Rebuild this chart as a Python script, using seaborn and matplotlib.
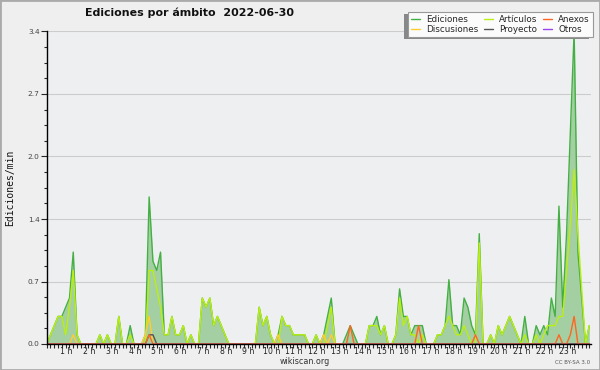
import matplotlib
matplotlib.use("Agg")
import matplotlib.pyplot as plt
import matplotlib.transforms as mtransforms
from matplotlib.patches import Rectangle
from matplotlib.lines import Line2D
from matplotlib.ticker import FixedLocator, FormatStrFormatter
import seaborn as sns
import numpy as np
import pandas as pd

titulo = "Ediciones por ámbito  2022-06-30"

# ediciones/min en intervalos de 10 minutos (144 valores, 12 por fila = 2 horas)
ediciones = [
    0, .1, .2, .3, .3, .4, .5, 1.0, .1, 0, 0, 0,
    0, 0, .1, 0, .1, 0, 0, .3, 0, 0, .2, 0,
    0, 0, .1, 1.6, .9, .8, 1.0, .1, .1, .3, .1, .1,
    .2, 0, .1, 0, 0, .5, .4, .5, .2, .3, .2, .1,
    0, 0, 0, 0, 0, 0, 0, 0, .4, .2, .3, .1,
    0, .1, .3, .2, .2, .1, .1, .1, .1, 0, 0, .1,
    0, .1, .3, .5, 0, 0, 0, .1, .2, .1, 0, 0,
    0, .2, .2, .3, .1, .2, 0, 0, .1, .6, .3, .3,
    .1, .2, .2, .2, 0, 0, 0, .1, .1, .2, .7, .2,
    .2, .1, .5, .4, .2, .1, 1.2, 0, 0, .1, 0, .2,
    .1, .2, .3, .2, .1, 0, .3, 0, 0, .2, .1, .2,
    .1, .5, .3, 1.5, .4, 1.2, 2.3, 3.4, 1.0, .5, 0, .2,
]

articulos = [
    0, .1, .2, .3, .3, .1, .4, .8, .1, 0, 0, 0,
    0, 0, .1, 0, .1, 0, 0, .3, 0, 0, .1, 0,
    0, 0, 0, .8, .8, .6, .4, .1, .1, .3, .1, .1,
    .2, 0, .1, 0, 0, .5, .4, .5, .2, .3, .2, .1,
    0, 0, 0, 0, 0, 0, 0, 0, .4, .2, .3, .1,
    0, 0, .3, .2, .2, .1, .1, .1, .1, 0, 0, .1,
    0, 0, .2, .4, 0, 0, 0, 0, 0, 0, 0, 0,
    0, .2, .2, .2, .1, .2, 0, 0, .1, .5, .2, .3,
    .1, .1, 0, .1, 0, 0, 0, .1, .1, .2, .3, .2,
    .1, .1, .2, .1, 0, 0, 1.1, 0, 0, .1, 0, .2,
    .1, .2, .3, .2, .1, 0, .1, 0, 0, .1, 0, .1,
    .2, .2, .2, .3, .3, .8, 1.3, 1.9, 1.2, .6, 0, .2,
]

# series casi vacias: {intervalo: valor}
discusiones_picos = {7: .1, 26: .1, 27: .3, 61: .1, 73: .1, 75: .1}
proyecto_picos = {27: .1, 28: .1}
anexos_picos = {27: .1, 80: .2, 98: .2, 113: .1, 135: .1, 138: .1, 139: .3}
otros_picos = {}

horas_etiquetas = [f"{h} h" for h in range(1, 24)]

colores = {
    "Ediciones": "#44b044",
    "Artículos": "#bbee11",
    "Discusiones": "#ffcc33",
    "Proyecto": "#555555",
    "Anexos": "#ff6622",
    "Otros": "#9944ee",
}


def serie(picos, n=144):
    v = np.zeros(n)
    for i, val in picos.items():
        v[i] = val
    return v


t = np.arange(144) / 6
df = pd.DataFrame({
    "hora": t,
    "Ediciones": ediciones,
    "Artículos": articulos,
    "Discusiones": serie(discusiones_picos),
    "Proyecto": serie(proyecto_picos),
    "Anexos": serie(anexos_picos),
    "Otros": serie(otros_picos),
})
largo = df.melt(id_vars="hora", var_name="ambito", value_name="valor")

sns.set_style("ticks")
plt.rcParams["font.family"] = ["DejaVu Sans"]

fig = plt.figure(figsize=(6, 3.7), dpi=100, facecolor="#efefef")
ax = fig.add_axes([46.7 / 600, 26 / 370, 544.5 / 600, 312.5 / 370])
ax.set_facecolor("#eeeff1")

# area de ediciones
ax.fill_between(df["hora"], df["Ediciones"], color="#a3cfa3", lw=0, zorder=2)

orden = ["Ediciones", "Artículos", "Discusiones", "Proyecto", "Anexos", "Otros"]
sns.lineplot(data=largo, x="hora", y="valor", hue="ambito", hue_order=orden,
             palette=colores, lw=1, ax=ax, legend=False, errorbar=None, zorder=3)

ax.set_xlim(0, 143.5 / 6)
ax.set_ylim(0, 3.4)

# ticks y
ax.yaxis.set_major_locator(FixedLocator(np.linspace(0, 3.4, 6)))
ax.yaxis.set_minor_locator(FixedLocator(np.linspace(0, 3.4, 21)))
ax.yaxis.set_major_formatter(FormatStrFormatter("%.1f"))
ax.tick_params(axis="y", which="major", length=4, width=0.8, labelsize=5.3, labelcolor="#444444", pad=1)
ax.tick_params(axis="y", which="minor", length=2.5, width=0.8)
ax.yaxis.grid(True, which="major", color="#cccccc", lw=0.8, zorder=0)

# ticks x: cada 10 minutos, etiqueta cada hora
ax.xaxis.set_major_locator(FixedLocator(range(1, 24)))
ax.xaxis.set_minor_locator(FixedLocator(t))
ax.set_xticklabels(horas_etiquetas)
ax.tick_params(axis="x", which="both", length=3, width=0.8, labelsize=5.6, labelcolor="#222222", pad=-0.5)
desplaza = mtransforms.ScaledTranslation(-3 / 100, 0, fig.dpi_scale_trans)
for lab in ax.get_xticklabels():
    lab.set_transform(lab.get_transform() + desplaza)

sns.despine(ax=ax)
for lado in ["left", "bottom"]:
    ax.spines[lado].set_color("black")
    ax.spines[lado].set_linewidth(1)
    ax.spines[lado].set_zorder(5)

ax.set_xlabel("")
ax.set_ylabel("")

# textos
fig.text(85 / 600, 1 - 13 / 370, titulo, fontsize=7.9, fontweight="bold", ha="left", va="center", color="#111111")
fig.text(10 / 600, 1 - 188 / 370, "Ediciones/min", family="DejaVu Sans Mono", fontsize=7,
         rotation=90, ha="center", va="center", color="#111111")
fig.text(305 / 600, 1 - 362 / 370, "wikiscan.org", fontsize=5.8, ha="center", va="center", color="#333333")
fig.text(590 / 600, 1 - 362 / 370, "CC BY-SA 3.0", fontsize=4, ha="right", va="center", color="#555555")

# leyenda
labels = ["Ediciones", "Discusiones", "Artículos", "Proyecto", "Anexos", "Otros"]
handles = [Line2D([], [], color=colores[n], lw=1) for n in labels]
leg = fig.legend(handles, labels, ncol=3, loc="upper right",
                 bbox_to_anchor=(593 / 600, 1 - 11.7 / 370), fontsize=6.3,
                 frameon=True, fancybox=False, framealpha=1, edgecolor="#999999",
                 facecolor="#fbfbfb", handlelength=1.0, handletextpad=0.7,
                 columnspacing=0.7, labelspacing=0.1, borderpad=0.35, borderaxespad=0)
leg.get_frame().set_linewidth(0.8)
leg.set_zorder(6)

fig.canvas.draw()
bb = leg.get_window_extent()
W, H = fig.bbox.width, fig.bbox.height
sombra = Rectangle(((bb.x0 - 4) / W, (bb.y0 - 2.5) / H), bb.width / W, bb.height / H,
                   transform=fig.transFigure, facecolor="#888888", edgecolor="none", zorder=5)
fig.add_artist(sombra)

# marco exterior
fig.add_artist(Rectangle((0, 0), 1, 1, transform=fig.transFigure, fill=False,
                         edgecolor="#aaaaaa", lw=2, zorder=10))

fig.savefig("out.png", dpi=100, facecolor=fig.get_facecolor())
